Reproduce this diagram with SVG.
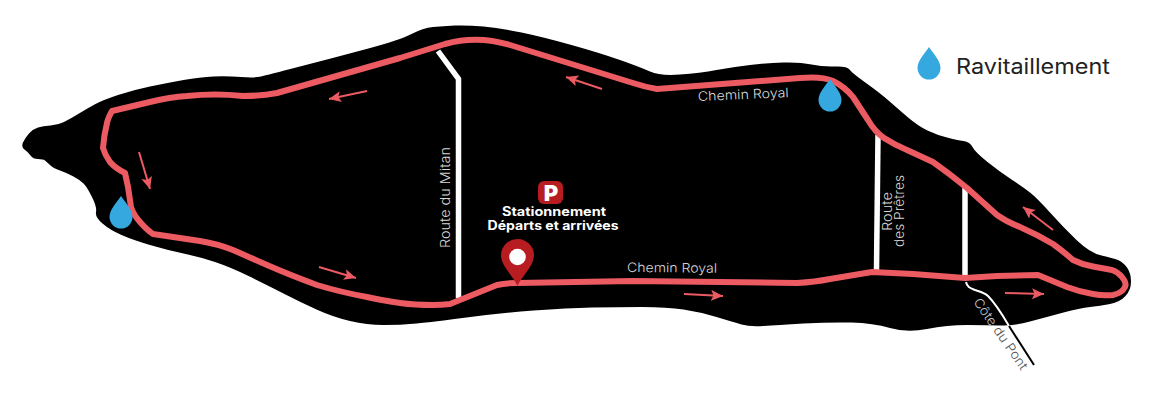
<svg xmlns="http://www.w3.org/2000/svg" width="1154" height="402" viewBox="0 0 1154 402">
<style>
.road{fill:none;stroke:#fff;stroke-width:5.5}
.route{fill:none;stroke:#ec5a62;stroke-width:6;stroke-linejoin:round;stroke-linecap:round}
.arrow{fill:none;stroke:#ec5a62;stroke-width:2;marker-end:url(#head)}
.lbl{font-family:Inter,"Open Sans",sans-serif;font-weight:300;font-size:13px;fill:#d8d8d8}
.park{font-family:Inter,"Open Sans",sans-serif;font-weight:700;font-size:12.500px;fill:#fff;text-anchor:middle}
.drop{fill:#35a8e0}
</style>
<defs>
<marker id="head" markerUnits="userSpaceOnUse" markerWidth="13" markerHeight="12" refX="12" refY="5.500" orient="auto"><path d="M0 0L12 5.500L0 11L2.500 5.500Z" fill="#ec5a62"/></marker>
<path id="dropShape" d="M0 0C3 5 11.500 13 11.500 21A11.500 11.500 0 0 1-11.500 21C-11.500 13-3 5 0 0Z"/>
</defs>
<rect width="1154" height="402" fill="#fff"/>
<path id="land" d="M23 142.500Q25 138 29 133.500Q33 129 38 127.500Q43 126 50.500 125.500Q58 125 64 122Q70 119 79 113.500Q88 108 95.500 104Q103 100 118 95Q133 90 150 86.500Q167 83 183.500 80Q200 77 213.500 76.500Q227 76 241 77Q255 78 261 76.500Q267 75 300 66.500Q333 58 366.500 49Q400 40 411.500 34Q423 28 433 27Q443 26 455 25.500Q467 25 483.500 26.500Q500 28 521.500 32.500Q543 37 571.500 45Q600 53 620 60Q640 67 650 71.500Q660 76 680 74.500Q700 73 716.500 70Q733 67 750 65Q767 63 783.500 62.500Q800 62 811.500 64.500Q823 67 835 66.500Q847 66 849.500 69.500Q852 73 866 83Q880 93 888.500 100.500Q897 108 907.500 117Q918 126 927.500 130.500Q937 135 947 137.500Q957 140 963.500 141Q970 142 972.500 147Q975 152 987.500 162Q1000 172 1011.500 179.500Q1023 187 1030 192.500Q1037 198 1050 212.500Q1063 227 1076.500 240Q1090 253 1101.500 255.500Q1113 258 1118 260Q1123 262 1127 267.500Q1131 273 1131 281.500Q1131 290 1125.500 296Q1120 302 1110 304Q1100 306 1090 307Q1080 308 1063.500 312.500Q1047 317 1030 321.500Q1013 326 1000 325.500Q987 325 967 325Q947 325 927 329Q907 333 890 328Q873 323 851.500 322.500Q830 322 803.500 323.500Q777 325 763.500 326Q750 327 741.500 324.500Q733 322 716.500 317Q700 312 683.500 309.500Q667 307 642 307Q617 307 592 307.500Q567 308 533.500 310.500Q500 313 466.500 317.500Q433 322 416.500 323.500Q400 325 383.500 325Q367 325 350 321Q333 317 316.500 309.500Q300 302 283.500 293.500Q267 285 248.500 276Q230 267 215 262Q200 257 183.500 253.500Q167 250 150 245Q133 240 121.500 235Q110 230 102.500 223.500Q95 217 96 212Q97 207 92 197Q87 187 83.500 183.500Q80 180 73.500 176.500Q67 173 60 170.500Q53 168 50 165Q47 162 45 160.500Q43 159 38 159Q33 159 30.500 155.500Q28 152 24.500 149.500Q21 147 23 142.500Z" fill="#000"/>
<g id="roads">
<path class="road" d="M438 51L458.500 79V298"/>
<path class="road" d="M878 135L876.500 270"/>
<path class="road" d="M965 188V278"/>
<path d="M966 282C967 287 970 288 975 290C981 292 985 293 988 296C993 301 1002 314 1009 326" fill="none" stroke="#fff" stroke-width="2"/>
<path d="M1009 326L1034 365" fill="none" stroke="#000" stroke-width="2"/>
</g>
<g id="connectors">
<path id="route" class="route" d="M400 58L445 44Q477 35 510 45L633 83Q645 87 657 89L800 78Q822 76 833 81Q845 87 853 97L868 120Q875 132 884 138Q895 145 907 150L933 162Q950 174 967 188L997 215Q1007 222 1020 227Q1038 235 1053 244Q1064 252 1073 260Q1083 265 1093 266.500L1112 270Q1118 272 1122 277Q1127 283 1125 287Q1122 293 1113 295Q1103 296 1093 294Q1080 292 1067 287L1038 275L997 276L965 278L913 274L872 272L830 279Q815 282 797 283L633 281L517 283Q505 283 497 285L450 304Q441 305 433 305Q415 305 400 303Q380 300 367 297Q340 292 317 285Q290 275 267 265L233 250Q218 244 200 241L153 234Q147 230 140 222Q133 214 131 207L128 187L125 173Q115 168 110 162Q105 155 103 148Q104 135 107 123Q108 118 112 111L150 102Q170 97 187 96Q215 93 243 96Q262 96 277 93L400 58Z"/>
<path class="arrow" d="M367 91L329 99"/>
<path class="arrow" d="M139 152L150 189"/>
<path class="arrow" d="M319 267L356 278"/>
<path class="arrow" d="M602 89L566 77"/>
<path class="arrow" d="M684 294L723 296"/>
<path class="arrow" d="M1053 230L1023 207"/>
<path class="arrow" d="M1005 293L1044 294"/>
</g>
<g id="drop-west"><use href="#dropShape" class="drop" x="121" y="196"/></g>
<g id="drop-north"><use href="#dropShape" class="drop" x="830" y="79"/></g>
<g id="legend">
<use href="#dropShape" class="drop" x="929" y="47"/>
<text x="956" y="74" font-family="Inter,'Open Sans',sans-serif" font-size="21" fill="#222" textLength="154" lengthAdjust="spacingAndGlyphs">Ravitaillement</text>
</g>
<g id="parking">
<rect x="538" y="181" width="25" height="23" rx="6" fill="#b71c20"/>
<text x="551" y="200.500" font-family="Inter,sans-serif" font-weight="900" font-size="22" fill="#fff" text-anchor="middle">P</text>
<text class="park" x="554" y="215.500" textLength="104" lengthAdjust="spacingAndGlyphs">Stationnement</text>
<text class="park" x="553" y="229.500" textLength="131" lengthAdjust="spacingAndGlyphs">Départs et arrivées</text>
</g>
<g id="pin">
<path d="M517.500 286C514 277 501 266 501 255.500A16.500 16.500 0 0 1 534 255.500C534 266 521 277 517.500 286Z" fill="#b71c20"/>
<circle cx="517.500" cy="257" r="8.300" fill="#fff"/>
</g>
<g id="labels">
<text class="lbl" transform="translate(698 101) rotate(-2.500)" textLength="91" lengthAdjust="spacingAndGlyphs">Chemin Royal</text>
<text class="lbl" transform="translate(627 272) rotate(0.500)" textLength="90" lengthAdjust="spacingAndGlyphs">Chemin Royal</text>
<text class="lbl" transform="translate(450 248) rotate(-90)" textLength="101" lengthAdjust="spacingAndGlyphs">Route du Mitan</text>
<text class="lbl" transform="translate(892 231) rotate(-90)" textLength="39" lengthAdjust="spacingAndGlyphs">Route</text>
<text class="lbl" transform="translate(904 247) rotate(-90)" textLength="72" lengthAdjust="spacingAndGlyphs">des Prêtres</text>
<text class="lbl" transform="translate(973 302) rotate(55)" textLength="84" lengthAdjust="spacingAndGlyphs"><tspan style="fill:#c4c4c4">Côte</tspan> <tspan style="fill:#555">du Pont</tspan></text>
</g>
</svg>
